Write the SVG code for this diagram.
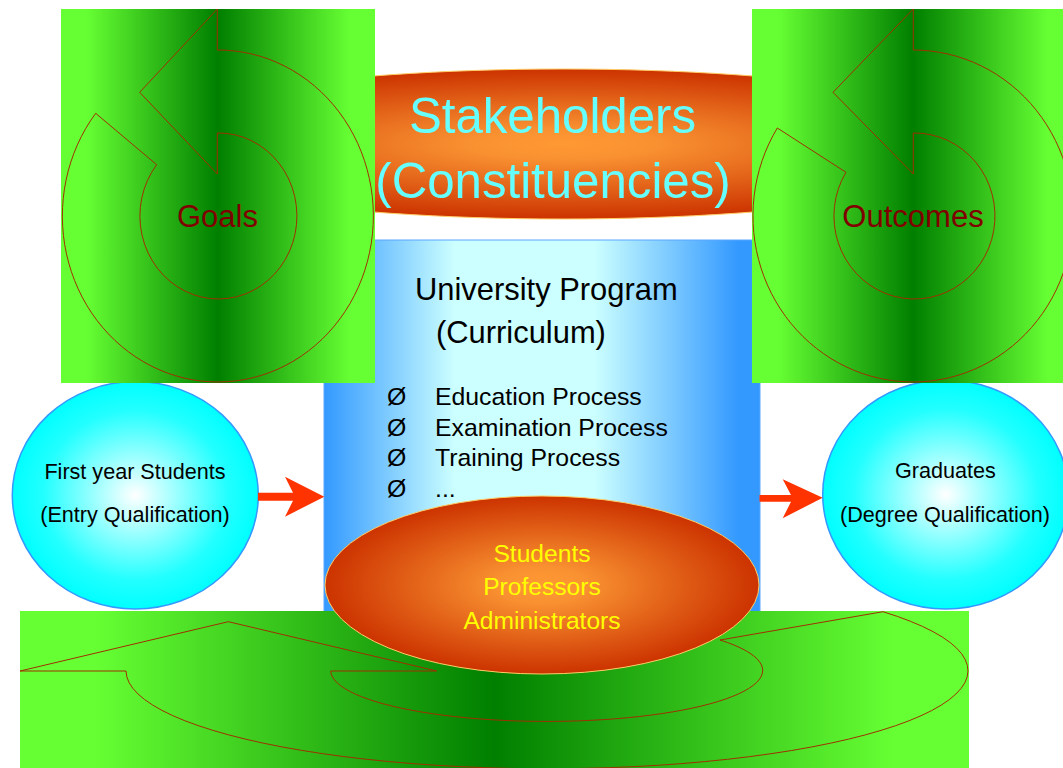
<svg xmlns="http://www.w3.org/2000/svg" width="1063" height="768" viewBox="0 0 1063 768">
<defs>
  <linearGradient id="gGreenL" gradientUnits="userSpaceOnUse" x1="61" y1="0" x2="375" y2="0">
    <stop offset="0" stop-color="#66ff33"/>
    <stop offset="0.08" stop-color="#66ff33"/>
    <stop offset="0.5" stop-color="#007f00"/>
    <stop offset="0.92" stop-color="#66ff33"/>
    <stop offset="1" stop-color="#66ff33"/>
  </linearGradient>
  <linearGradient id="gGreenR" href="#gGreenL" gradientUnits="userSpaceOnUse" x1="752" y1="0" x2="1074" y2="0"/>
  <linearGradient id="gGreenB" href="#gGreenL" gradientUnits="userSpaceOnUse" x1="20" y1="0" x2="969" y2="0"/>
  <linearGradient id="gBlue" gradientUnits="userSpaceOnUse" x1="324" y1="0" x2="760" y2="0">
    <stop offset="0" stop-color="#3399ff"/>
    <stop offset="0.3" stop-color="#ccffff"/>
    <stop offset="0.62" stop-color="#ccffff"/>
    <stop offset="0.95" stop-color="#3399ff"/>
    <stop offset="1" stop-color="#3399ff"/>
  </linearGradient>
  <radialGradient id="gOrange" cx="0.5" cy="0.5" r="0.5">
    <stop offset="0" stop-color="#ff9933"/>
    <stop offset="0.2" stop-color="#f99131"/>
    <stop offset="1" stop-color="#cc3300"/>
  </radialGradient>
  <radialGradient id="gCyan" cx="0.5" cy="0.5" r="0.5">
    <stop offset="0" stop-color="#ffffff"/>
    <stop offset="0.75" stop-color="#22ffff"/>
    <stop offset="1" stop-color="#00ffff"/>
  </radialGradient>
  <style>
    text { font-family: "Liberation Sans", Arial, sans-serif; }
    .loopline { stroke: #a03000; stroke-width: 1; }
    .lbl { fill: #800000; font-size: 31px; text-anchor: middle; }
    .circ { fill: url(#gCyan); stroke: #3399ff; stroke-width: 1.5; }
    .ctext { fill: #000; font-size: 21.6px; text-anchor: middle; }
    .orng { fill: url(#gOrange); stroke: #ffcc66; stroke-width: 1; }
    .ytext { fill: #ffff00; font-size: 24.6px; text-anchor: middle; }
    .btext { fill: #000; font-size: 24.8px; }
    .ptext { fill: #000; font-size: 30.9px; }
    .stext { fill: #66ffff; font-size: 49.2px; text-anchor: middle; }
    .arrow { fill: #ff3300; }
  </style>
</defs>

<g id="stakeholders">
  <ellipse cx="563" cy="144" rx="450" ry="75" class="orng"/>
</g>

<g id="program">
  <rect x="324" y="240" width="436" height="372" fill="url(#gBlue)" stroke="#5aa5ff" stroke-width="1"/>
  <text x="415" y="300" class="ptext">University Program</text>
  <text x="436" y="343" class="ptext">(Curriculum)</text>
  <text x="387" y="405" class="btext">Ø</text>
  <text x="435" y="405" class="btext">Education Process</text>
  <text x="387" y="435.5" class="btext">Ø</text>
  <text x="435" y="435.5" class="btext">Examination Process</text>
  <text x="387" y="466" class="btext">Ø</text>
  <text x="435" y="466" class="btext">Training Process</text>
  <text x="387" y="497" class="btext">Ø</text>
  <text x="435" y="497" class="btext">...</text>
</g>

<g id="first-year">
  <ellipse cx="135.3" cy="495.3" rx="123" ry="113.7" class="circ"/>
  <text x="135" y="479" class="ctext">First year Students</text>
  <text x="135" y="521.5" class="ctext">(Entry Qualification)</text>
</g>

<g id="graduates">
  <ellipse cx="945.7" cy="494.5" rx="123" ry="114.5" class="circ"/>
  <text x="945.5" y="478.3" class="ctext">Graduates</text>
  <text x="945" y="521.5" class="ctext">(Degree Qualification)</text>
</g>

<g id="goals">
  <rect x="61" y="9" width="314" height="374" fill="url(#gGreenL)"/>
  <path d="M217.3,9 L217.3,50 A155.5,166 0 1,1 95.7,113.3 L156.7,164.7 A78.5,83 0 1,0 217.3,133 L217.3,174 L139.7,92.3 Z" fill="url(#gGreenL)" class="loopline"/>
  <text x="217.5" y="227" class="lbl">Goals</text>
</g>

<g id="outcomes">
  <rect x="752" y="9" width="322" height="374" fill="url(#gGreenR)"/>
  <path d="M913.3,9 L913.3,50 A160,166 0 1,1 777.3,128 L846,172.3 A80.5,83 0 1,0 913.3,133 L913.3,174 L833,92.3 Z" fill="url(#gGreenR)" class="loopline"/>
  <text x="913" y="227" class="lbl">Outcomes</text>
</g>

<g id="stakeholders-label">
  <text x="552.5" y="133" class="stext">Stakeholders</text>
  <text x="553" y="198" class="stext">(Constituencies)</text>
</g>

<g id="feedback">
  <rect x="20" y="611" width="949" height="160" fill="url(#gGreenB)"/>
  <path d="M20,671 L126,671 A421,98 0 1,0 883,611.7 L720,640 A216,51 0 1,1 330.7,671 L436.7,671 L228.3,621.7 Z" fill="url(#gGreenB)" class="loopline"/>
</g>

<g id="people">
  <ellipse cx="542" cy="585" rx="217" ry="89" class="orng"/>
  <text x="542" y="562" class="ytext">Students</text>
  <text x="542" y="595" class="ytext">Professors</text>
  <text x="542" y="628.5" class="ytext">Administrators</text>
</g>

<g id="connectors">
  <path class="arrow" d="M258,492.7 L293,492.7 L285,476.7 L324.3,496.7 L285,516.7 L293,500.7 L258,500.7 Z"/>
  <path class="arrow" d="M759.5,495 L791,495 L782.7,479.3 L822.7,497.7 L782.7,518.3 L791,501.7 L759.5,501.7 Z"/>
</g>
</svg>
